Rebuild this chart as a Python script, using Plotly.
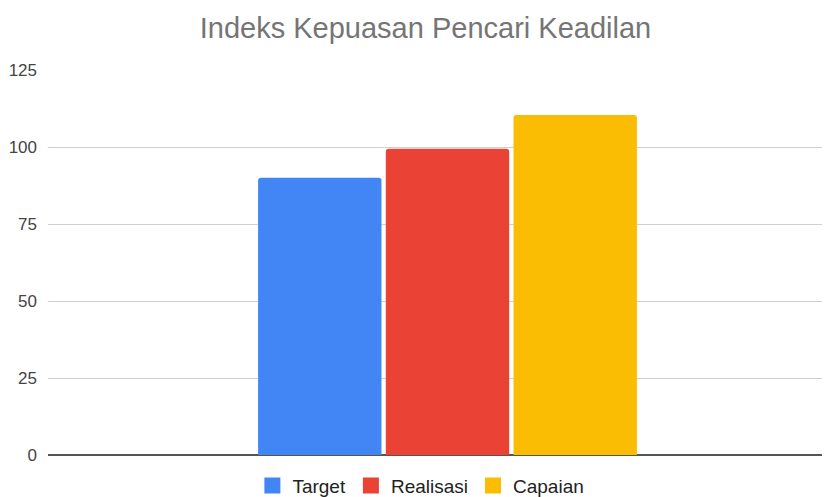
import plotly.graph_objects as go

categories = [""]
series_names = ["Target", "Realisasi", "Capaian"]
target = [90]
realisasi = [99.4]
capaian = [110.4]
tick_vals = [0, 25, 50, 75, 100, 125]
tick_text = ["0", "25", "50", "75", "100", "125"]

colors = ["#4285F4", "#EA4335", "#FBBC04"]
values = [target, realisasi, capaian]

fig = go.Figure()
for name, vals, col in zip(series_names, values, colors):
    fig.add_trace(go.Bar(x=[0], y=vals, name=name, showlegend=False,
                         marker=dict(color=col, line=dict(width=0))))
# legend keys as square markers
for name, col in zip(series_names, colors):
    fig.add_trace(go.Scatter(x=[None], y=[None], mode="markers", name=name,
                             marker=dict(symbol="square", size=17, color=col)))

FONT = "Liberation Sans, Arial, sans-serif"
fig.update_layout(
    width=830, height=497,
    margin=dict(l=40, r=0, t=62, b=50, autoexpand=False),
    paper_bgcolor="white", plot_bgcolor="white",
    barmode="group", bargap=0.515, bargroupgap=0.034, barcornerradius=3,
    title=dict(text="Indeks Kepuasan Pencari Keadilan", x=0.503, xanchor="center", y=0.96, yanchor="middle",
               font=dict(family=FONT, size=29, color="#757575")),
    font=dict(family=FONT),
    xaxis=dict(range=[-0.5057, 0.4943], showticklabels=False, showgrid=False, zeroline=False, showline=False,
               automargin=False),
    yaxis=dict(range=[0, 125], tickvals=tick_vals, ticktext=tick_text, showgrid=True, gridcolor="#d0d0d0",
               gridwidth=1, zeroline=True, zerolinecolor="#555555", zerolinewidth=1.5, automargin=False,
               tickfont=dict(family=FONT, size=17, color="#444444"), ticklabelstandoff=10, showline=False),
    legend=dict(orientation="h", x=0.472, xanchor="center", y=-0.03, yanchor="top",
                font=dict(family=FONT, size=19, color="#222222"), itemwidth=30),
    showlegend=True,
)

fig.write_html("out.html")
